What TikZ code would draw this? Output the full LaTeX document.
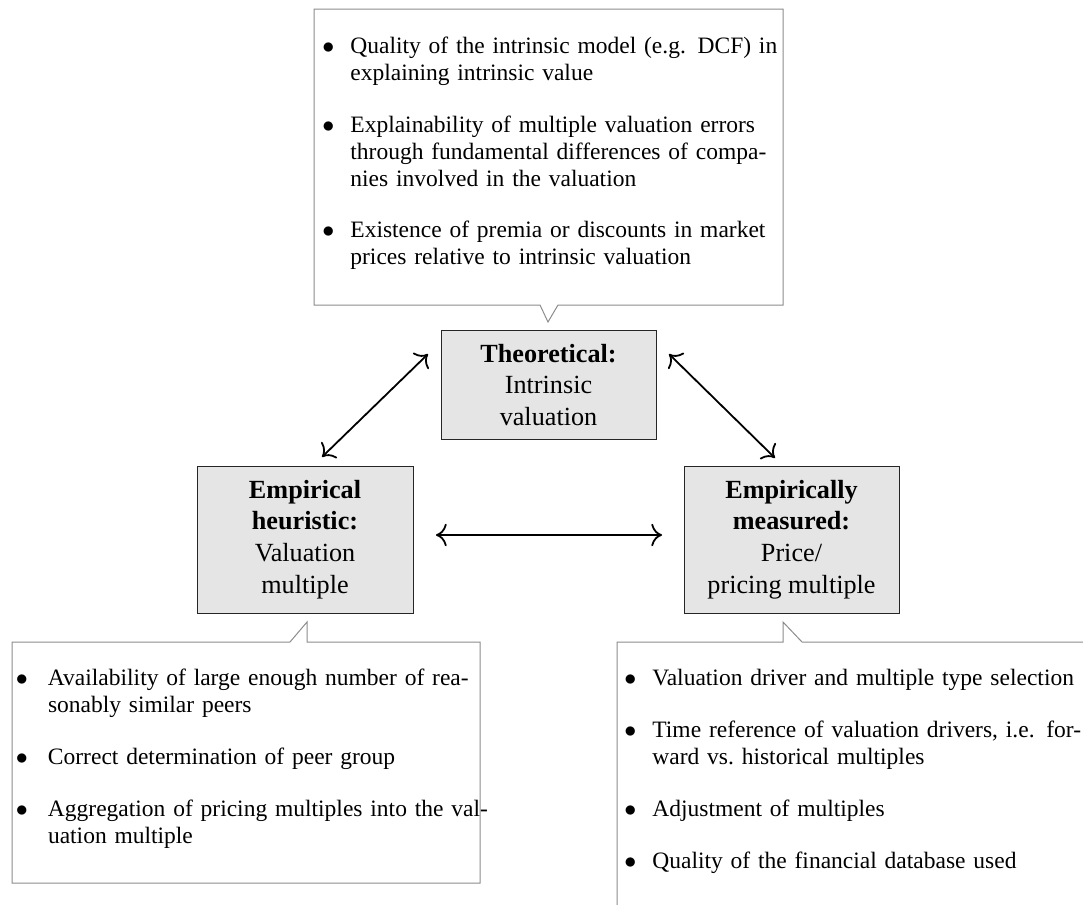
\documentclass[tikz,border=0pt]{standalone}
\usepackage{fontspec}
\setmainfont{Liberation Serif}
\usetikzlibrary{arrows.meta}
\newlength\jlw
\newcommand\jl[1]{\hbox to\jlw{#1}\newline}
\newcommand\bitem[3]{\par\setlength\jlw{\dimexpr\hsize-#2\relax}\noindent\hangindent=#2\relax\hangafter=0\relax\leavevmode\llap{\makebox[#2][l]{\hspace*{#1}$\bullet$}}#3\par}
\newcommand\isep{\par\vspace{12.5pt}}
\newcommand\fixls{\lineskiplimit=-1000pt\relax\parindent=0pt\relax}
\tikzset{
  callout/.style={draw=black!45, line width=0.5pt},
  ctext/.style={inner sep=0pt, anchor=north west, font=\fontsize{11.75pt}{13.45pt}\selectfont},
  keybox/.style={draw=black!85, fill=black!10, line width=0.5pt, align=center, inner sep=0pt, font=\fontsize{13.1pt}{15.85pt}\selectfont},
  link/.style={line width=0.9pt, {To[scale=1.5]}-{To[scale=1.5]}}
}
\begin{document}
\begin{tikzpicture}[x=0.5pt,y=-0.5pt]
\useasboundingbox (0,0) rectangle (1083,905);
\clip (0,0) rectangle (1083,905);

% callout outlines
\draw[callout] (314,9) -- (783,9) -- (783,305) -- (558,305) -- (548,322) -- (540,305) -- (314,305) -- cycle;
\draw[callout] (12,642) -- (290,642) -- (307,622) -- (307,642) -- (480,642) -- (480,883) -- (12,883) -- cycle;
\draw[callout] (617,642) -- (783,642) -- (783,622) -- (802,642) -- (1100,642) -- (1100,930) -- (617,930) -- cycle;

% callout texts
\node[ctext, text width=230.5pt] (topt) at (314,26.1) {\fixls
\bitem{4pt}{18pt}{\jl{Quality of the intrinsic model (e.g. DCF) in}explaining intrinsic value}\isep
\bitem{4pt}{18pt}{\jl{Explainability of multiple valuation errors}\jl{through fundamental differences of compa-}nies involved in the valuation}\isep
\bitem{4pt}{18pt}{\jl{Existence of premia or discounts in market}prices relative to intrinsic valuation}};

\node[ctext, text width=231pt] (leftt) at (12,658.1) {\fixls
\bitem{1.8pt}{17.8pt}{\jl{Availability of large enough number of rea-}sonably similar peers}\isep
\bitem{1.8pt}{17.8pt}{Correct determination of peer group}\isep
\bitem{1.8pt}{17.8pt}{\jl{Aggregation of pricing multiples into the val-}uation multiple}};

\node[ctext, text width=231pt] (rightt) at (617,658.1) {\fixls
\bitem{3.5pt}{17.5pt}{Valuation driver and multiple type selection}\isep
\bitem{3.5pt}{17.5pt}{\jl{Time reference of valuation drivers, i.e. for-}ward vs.\ historical multiples}\isep
\bitem{3.5pt}{17.5pt}{Adjustment of multiples}\isep
\bitem{3.5pt}{17.5pt}{Quality of the financial database used}};

% key boxes
\node[keybox, minimum width=107.5pt, minimum height=54.5pt] (th) at (548.5,385) {\textbf{Theoretical:}\\Intrinsic\\valuation};
\node[keybox, minimum width=108pt, minimum height=73.5pt] (eh) at (305,539.5) {\textbf{Empirical}\\\textbf{heuristic:}\\Valuation\\multiple};
\node[keybox, minimum width=107.5pt, minimum height=73.5pt] (em) at (791.5,539.5) {\textbf{Empirically}\\\textbf{measured:}\\Price/\\pricing multiple};

% connectors
\coordinate (l1) at (322,457); \coordinate (l2) at (428,354);
\coordinate (r1) at (669,354); \coordinate (r2) at (775,458);
\coordinate (h1) at (436,535); \coordinate (h2) at (662,535);
\draw[link] (l1) -- (l2);
\draw[link] (r1) -- (r2);
\draw[link] (h1) -- (h2);
\end{tikzpicture}
\end{document}
